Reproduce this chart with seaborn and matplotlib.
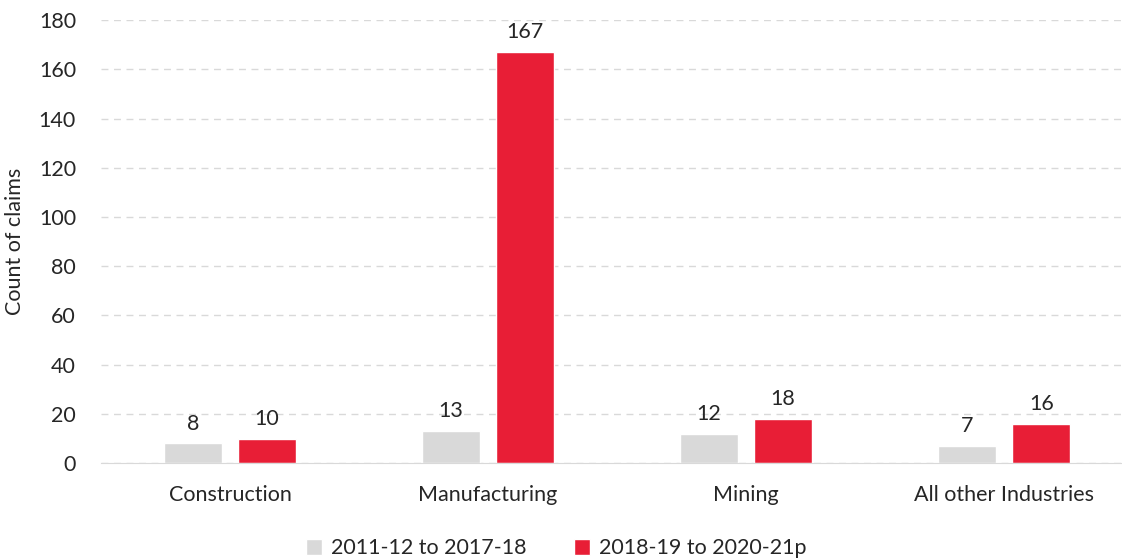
import pandas as pd
import matplotlib.pyplot as plt
import seaborn as sns

industries = ["Construction", "Manufacturing", "Mining", "All other Industries"]
period_1 = [8, 13, 12, 7]
period_2 = [10, 167, 18, 16]
periods = ["2011-12 to 2017-18", "2018-19 to 2020-21p"]
colors = ["#D9D9D9", "#E81E36"]

df = pd.DataFrame({
    "industry": industries * 2,
    "claims": period_1 + period_2,
    "period": [periods[0]] * 4 + [periods[1]] * 4,
})

sns.set_style("white")
plt.rcParams['font.family'] = ['Lato', 'DejaVu Sans']

fig = plt.figure(figsize=(11.22, 5.6), dpi=100)
ax = fig.add_axes([0.09, 0.173, 0.92, 0.791])

sns.barplot(data=df, x="industry", y="claims", hue="period", palette=colors,
            width=0.574, gap=0.216, ax=ax, saturation=1)

for c in ax.containers:
    ax.bar_label(c, fontsize=15.5, padding=7)

ax.set_ylim(0, 180)
ax.set_yticks(range(0, 181, 20))
ax.set_xlim(-0.5, 3.5)
ax.yaxis.grid(True, linestyle=(0, (5, 4)), color="#D9D9D9", linewidth=1)
ax.set_axisbelow(True)
for s in ["left", "right", "top"]:
    ax.spines[s].set_visible(False)
ax.spines["bottom"].set_color("#D9D9D9")
ax.tick_params(axis="both", length=0, labelsize=15.5)
ax.tick_params(axis="x", pad=16)
ax.tick_params(axis="y", pad=18)
ax.set_xlabel("")
ax.set_ylabel("Count of claims", fontsize=15.5, labelpad=10)

ax.legend(loc="center", bbox_to_anchor=(0.441, -0.192), ncol=2, frameon=False,
          fontsize=15.5, handlelength=0.75, handleheight=0.75, columnspacing=2.2, handletextpad=0.4)

fig.savefig("out.png", dpi=100)
